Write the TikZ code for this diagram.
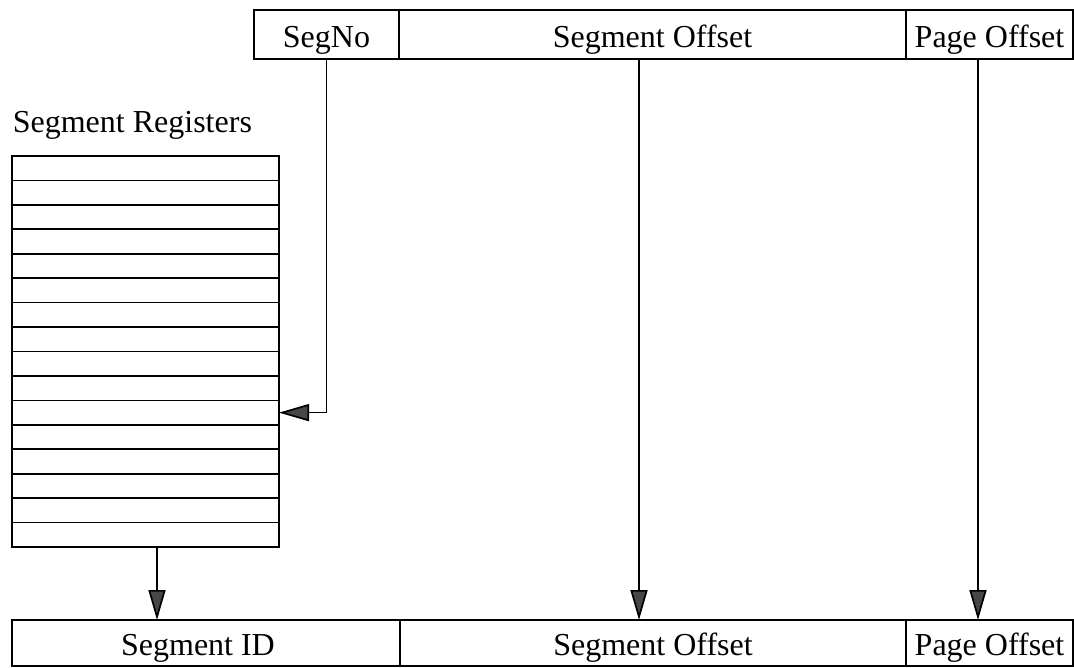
\documentclass[tikz,border=0pt]{standalone}
\usepackage{fontspec}
\setmainfont{Liberation Serif}
\usetikzlibrary{arrows.meta,calc}
\begin{document}
\begin{tikzpicture}[x=1pt,y=-1pt,
  font=\fontsize{32}{38}\selectfont,
  line width=1.7pt,
  cell/.style={draw=black, line width=1.7pt, inner sep=0pt, outer sep=0pt, text height=25pt, text depth=0pt, anchor=north west},
  reg/.style={draw=black, line width=1.7pt, inner sep=0pt, outer sep=0pt, minimum width=267pt, minimum height=24.44pt, anchor=north west},
  arr/.style={draw=black, line width=1.7pt, -{Triangle[length=30pt,width=17pt,fill=black!72]}}
]
\useasboundingbox (0,0) rectangle (1074,667);
% top address
\node[cell, minimum width=145pt, minimum height=49pt] (segno) at (254,10) {SegNo};
\node[cell, minimum width=507pt, minimum height=49pt] (soff) at (399,10) {Segment Offset};
\node[cell, minimum width=167pt, minimum height=49pt] (poff) at (906,10) {Page Offset};
% register label
\node[anchor=base west, inner sep=0pt] (reglabel) at (12,132) {Segment Registers};
% registers
\foreach \i in {0,...,15} {
  \node[reg] (r\i) at (12,{156+\i*24.44}) {};
}
% bottom address
\node[cell, minimum width=388pt, minimum height=46pt] (segid) at (12,620) {\hspace*{-16pt}Segment ID};
\node[cell, minimum width=506pt, minimum height=46pt] (boff) at (400,620) {Segment Offset};
\node[cell, minimum width=167pt, minimum height=46pt] (bpoff) at (906,620) {Page Offset};
% arrow columns
\coordinate (c1) at (157,0);
\coordinate (c2) at (639,0);
\coordinate (c3) at (978,0);
% connectors
\draw[arr] (segno.south) |- (r10.east);
\draw[arr] (r15.south -| c1) -- (segid.north -| c1);
\draw[arr] (soff.south -| c2) -- (boff.north -| c2);
\draw[arr] (poff.south -| c3) -- (bpoff.north -| c3);
\end{tikzpicture}
\end{document}
